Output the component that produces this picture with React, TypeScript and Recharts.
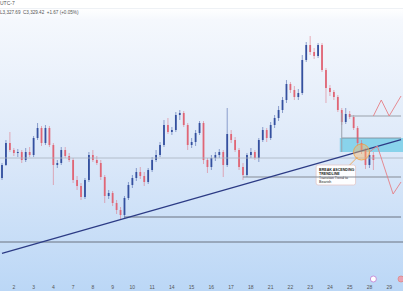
import { ComposedChart, Bar, Line, XAxis, YAxis, ReferenceLine, ReferenceArea, ReferenceDot } from 'recharts';

// 5 slots per trading day, slot 3 = July 2 open
const dayLabels = ['2', '3', '4', '7', '8', '9', '10', '11', '14', '15', '16', '17', '18', '21', '22', '23', '24', '25', '28', '29'];
const firstDaySlot = 3;
const slotsPerDay = 5;
const totalSlots = 102;

const opens = [
  3292, 3305, 3327, 3320, 3317, 3318, 3310, 3318, 3315, 3332,
  3342, 3327, 3342, 3325, 3305, 3307, 3320, 3314, 3310, 3290,
  3284, 3273, 3290, 3315, 3310, 3307, 3293, 3274, 3277, 3267,
  3260, 3255, 3272, 3285, 3292, 3298, 3294, 3288, 3300, 3310,
  3315, 3325, 3345, 3338, 3340, 3355, 3357, 3345, 3325, 3328,
  3337, 3347, 3310, 3303, 3312, 3315, 3318, 3305, 3336, 3330,
  3320, 3303, 3295, 3315, 3318, 3312, 3330, 3340, 3332, 3345,
  3352, 3360, 3370, 3386, 3380, 3373, 3377, 3410, 3425, 3418,
  3414, 3425, 3400, 3382, 3378, 3373, 3360, 3348, 3356, 3353,
  3342, 3327, 3320, 3305, 3315,
];
const highs = [
  3307, 3330, 3338, 3322, 3321, 3320, 3322, 3323, 3334, 3347,
  3344, 3345, 3344, 3327, 3310, 3323, 3323, 3317, 3312, 3294,
  3287, 3292, 3318, 3320, 3314, 3310, 3295, 3280, 3279, 3270,
  3263, 3274, 3288, 3295, 3302, 3303, 3298, 3302, 3313, 3320,
  3328, 3350, 3352, 3343, 3358, 3360, 3359, 3347, 3332, 3340,
  3349, 3349, 3312, 3315, 3318, 3321, 3320, 3362, 3340, 3333,
  3322, 3307, 3317, 3322, 3320, 3332, 3343, 3342, 3348, 3355,
  3364, 3373, 3390, 3388, 3384, 3381, 3415, 3428, 3434, 3422,
  3427, 3427, 3402, 3385, 3380, 3375, 3362, 3362, 3359, 3355,
  3344, 3330, 3322, 3318, 3318,
];
const lows = [
  3290, 3304, 3318, 3314, 3313, 3307, 3308, 3313, 3313, 3330,
  3324, 3325, 3323, 3285, 3302, 3305, 3312, 3308, 3287, 3280,
  3270, 3271, 3288, 3308, 3305, 3290, 3267, 3271, 3264, 3256,
  3251, 3252, 3270, 3282, 3289, 3291, 3284, 3286, 3298, 3308,
  3313, 3323, 3336, 3335, 3338, 3350, 3343, 3320, 3322, 3324,
  3335, 3306, 3297, 3300, 3309, 3312, 3293, 3303, 3327, 3318,
  3300, 3290, 3293, 3312, 3310, 3308, 3328, 3328, 3330, 3342,
  3349, 3357, 3367, 3377, 3370, 3370, 3375, 3408, 3415, 3411,
  3412, 3398, 3367, 3374, 3370, 3358, 3345, 3346, 3351, 3340,
  3324, 3316, 3301, 3302, 3300,
];
const closes = [
  3305, 3327, 3320, 3317, 3318, 3310, 3318, 3315, 3332, 3342,
  3327, 3342, 3325, 3305, 3307, 3320, 3314, 3310, 3290, 3284,
  3273, 3290, 3315, 3310, 3307, 3293, 3274, 3277, 3267, 3260,
  3255, 3272, 3285, 3292, 3298, 3294, 3288, 3300, 3310, 3315,
  3325, 3345, 3338, 3340, 3355, 3357, 3345, 3325, 3328, 3337,
  3347, 3310, 3303, 3312, 3315, 3318, 3305, 3336, 3330, 3320,
  3303, 3295, 3315, 3318, 3312, 3330, 3340, 3332, 3345, 3352,
  3360, 3370, 3386, 3380, 3373, 3377, 3410, 3425, 3418, 3414,
  3425, 3400, 3382, 3378, 3373, 3360, 3348, 3356, 3353, 3342,
  3327, 3320, 3305, 3315, 3310,
];

// projected paths (slot, price)
const projUpSlots = [94, 96, 98, 101];
const projUpPrices = [3354, 3370, 3354, 3374];
const projDownSlots = [93, 95, 99, 101];
const projDownPrices = [3318, 3324, 3276, 3288];

// levels
const fullLevels = [3312, 3228];
const supportLevel = 3253;
const supportFrom = 31;
const midLevel = 3293;
const midFrom = 61;
const topLevel = 3354;
const topFrom = 88;
const zoneFrom = 86;
const zoneLow = 3318;
const zoneHigh = 3332;
const trendStart = { slot: 0, price: 3216.6 };
const trendEnd = { slot: 101, price: 3330.3 };

const BLUE = '#34509f';
const RED = '#e06676';

const rows = Array.from({ length: totalSlots }, (_, i) => {
  const u = projUpSlots.indexOf(i);
  const d = projDownSlots.indexOf(i);
  return {
    i,
    o: i < opens.length ? opens[i] : null,
    h: i < highs.length ? highs[i] : null,
    l: i < lows.length ? lows[i] : null,
    c: i < closes.length ? closes[i] : null,
    up: u >= 0 ? projUpPrices[u] : null,
    dn: d >= 0 ? projDownPrices[d] : null,
  };
});

const tickText = (v: number) => {
  const k = (v - firstDaySlot) / slotsPerDay;
  return Number.isInteger(k) && k >= 0 && k < dayLabels.length ? dayLabels[k] : '';
};

const Candle = (props: any) => {
  const { x, y, width, height, payload } = props;
  if (!payload || payload.o == null) return null;
  const { o, h, l, c } = payload;
  const top = Math.min(y, y + height);
  const span = Math.abs(height);
  const py = (p: number) => (h === l ? top : top + ((h - p) / (h - l)) * span);
  const cx = x + width / 2;
  const color = c >= o ? BLUE : RED;
  const bTop = py(Math.max(o, c));
  const bBot = py(Math.min(o, c));
  return (
    <g>
      <line x1={cx} x2={cx} y1={top} y2={top + span} stroke={color} strokeOpacity={0.5} strokeWidth={1} />
      <rect x={cx - 0.9} y={bTop} width={1.8} height={Math.max(1, bBot - bTop)} fill={color} />
    </g>
  );
};

const Callout = (props: any) => {
  const { x, y } = props.viewBox;
  const lines = ['BREAK ASCENDING', 'TRENDLINE', 'Transtion Trend to', 'Bearish'];
  return (
    <g>
      {lines.map((t, k) => (
        <text key={k} x={x + 3} y={y + 5.5 + k * 4} fontSize={3.6} fontWeight={k < 2 ? 700 : 400} fill="#222" fontFamily="Liberation Sans, Arial, sans-serif">
          {t}
        </text>
      ))}
    </g>
  );
};

export default function App() {
  return (
    <div
      style={{
        position: 'absolute',
        left: 0,
        top: 0,
        width: 403,
        height: 303,
        background: '#fff',
        fontFamily: 'Liberation Sans, Arial, sans-serif',
        overflow: 'hidden',
      }}
    >
      <div
        style={{
          position: 'absolute',
          left: 0,
          top: 0,
          width: 403,
          height: 291,
          background: 'linear-gradient(to bottom, #ffffff 0px, #ffffff 8px, #f5f8fd 20px, #dde9f9 150px, #bbd7f6 291px)',
        }}
      />
      <div style={{ position: 'absolute', left: 0, top: 8, width: 403, height: 1, background: '#eef1f5' }} />
      <div style={{ position: 'absolute', left: 0, top: 0, fontSize: 5, color: '#555', lineHeight: '6px' }}>UTC-7</div>
      <div style={{ position: 'absolute', left: 0, top: 10, fontSize: 4.6, color: '#555', lineHeight: '6px', whiteSpace: 'nowrap' }}>
        L3,327.69&nbsp;&nbsp;C3,329.42&nbsp;&nbsp;+1.67 (+0.05%)
      </div>
      <div style={{ position: 'absolute', left: 0, top: 0 }}>
        <ComposedChart width={403} height={291} data={rows} margin={{ top: 0, right: 0, left: 0, bottom: 0 }} barCategoryGap={0}>
          <XAxis
            dataKey="i"
            interval={0}
            tickLine={false}
            axisLine={false}
            tickSize={0}
            tickMargin={4}
            height={10}
            tick={{ fontSize: 5, fill: '#555' }}
            tickFormatter={tickText}
          />
          <YAxis hide domain={[3189, 3470]} allowDataOverflow />
          <ReferenceArea x1={zoneFrom} x2={totalSlots - 1} y1={zoneLow} y2={zoneHigh} fill="#6ccbe6" fillOpacity={0.75} stroke="none" ifOverflow="visible" />
          <ReferenceLine y={fullLevels[0]} stroke="#aab3bf" strokeWidth={0.8} />
          <ReferenceLine y={fullLevels[1]} stroke="#6b7280" strokeWidth={1} />
          <ReferenceLine segment={[{ x: supportFrom, y: supportLevel }, { x: totalSlots - 1, y: supportLevel }]} stroke="#6b7280" strokeWidth={1} ifOverflow="visible" />
          <ReferenceLine segment={[{ x: midFrom, y: midLevel }, { x: totalSlots - 1, y: midLevel }]} stroke="#858b95" strokeWidth={1} ifOverflow="visible" />
          <ReferenceLine segment={[{ x: topFrom, y: topLevel }, { x: totalSlots - 1, y: topLevel }]} stroke="#9aa1ab" strokeWidth={1} ifOverflow="visible" />
          <ReferenceLine segment={[{ x: zoneFrom, y: zoneHigh }, { x: totalSlots - 1, y: zoneHigh }]} stroke="#7b8591" strokeWidth={0.8} ifOverflow="visible" />
          <ReferenceLine segment={[{ x: zoneFrom, y: topLevel + 3 }, { x: zoneFrom, y: zoneLow }]} stroke="#9aa1ab" strokeWidth={1} ifOverflow="visible" />
          <Bar dataKey={(d: any) => (d.o == null ? null : [d.l, d.h])} shape={<Candle />} isAnimationActive={false} />
          <ReferenceLine
            segment={[{ x: trendStart.slot, y: trendStart.price }, { x: trendEnd.slot, y: trendEnd.price }]}
            stroke="#2c3b85"
            strokeWidth={1.2}
            ifOverflow="visible"
          />
          <Line dataKey="up" stroke="#e57f86" strokeWidth={0.9} dot={false} connectNulls isAnimationActive={false} />
          <Line dataKey="dn" stroke="#e57f86" strokeWidth={0.9} dot={false} connectNulls isAnimationActive={false} />
          <ReferenceDot x={91} y={3318} r={8} fill="#f6b86a" fillOpacity={0.45} stroke="#f0a040" strokeWidth={0.8} />
          <ReferenceLine segment={[{ x: 88, y: 3305 }, { x: 90, y: 3313 }]} stroke="#f0a040" strokeWidth={0.8} ifOverflow="visible" />
          <ReferenceArea x1={80} x2={89} y1={3285} y2={3305} fill="#ffffff" fillOpacity={0.95} stroke="#e3c8c8" strokeWidth={0.8} radius={2} ifOverflow="visible" label={Callout} />
          <ReferenceDot x={94} y={3191} r={3} fill="#ffffff" stroke="#c07ad0" strokeWidth={0.8} />
          <ReferenceDot x={101} y={3191} r={3} fill="#e9a3b3" stroke="#d88" strokeWidth={0.8} />
        </ComposedChart>
      </div>
    </div>
  );
}
